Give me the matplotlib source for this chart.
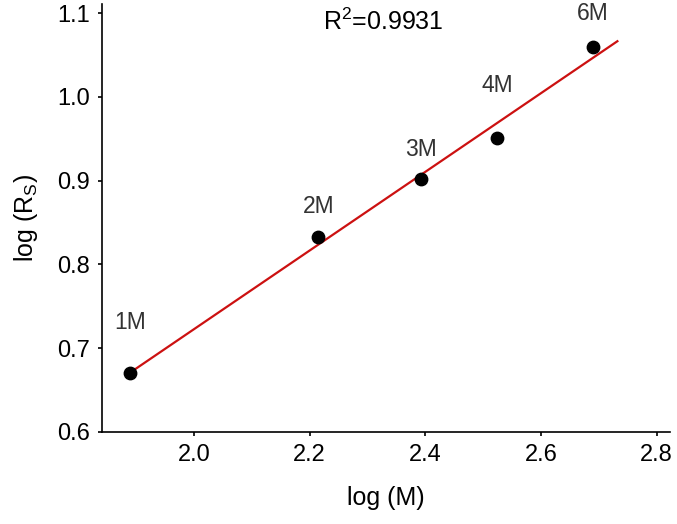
import numpy as np
import matplotlib
matplotlib.use("Agg")
import matplotlib.pyplot as plt

plt.rcParams['font.family'] = ['Liberation Sans', 'DejaVu Sans']
plt.rcParams['mathtext.fontset'] = 'custom'
plt.rcParams['mathtext.rm'] = 'Liberation Sans'
plt.rcParams['mathtext.it'] = 'Liberation Sans'

# data
labels = ['1M', '2M', '3M', '4M', '6M']
log_m = [1.890, 2.215, 2.392, 2.524, 2.690]
log_rs = [0.671, 0.833, 0.902, 0.951, 1.060]
r2_text = 'R$^2$=0.9931'
xticks = [2.0, 2.2, 2.4, 2.6, 2.8]
yticks = [0.6, 0.7, 0.8, 0.9, 1.0, 1.1]

# label offsets above the dots (pixels)
label_dy = [50, 30, 29, 52, 33]

fig = plt.figure(figsize=(6.77, 5.24), dpi=100)
ax = fig.add_axes([0.1507, 0.1756, 0.8390, 0.8170])

# linear fit
slope, icpt = np.polyfit(log_m, log_rs, 1)
x_fit = np.array([log_m[0], 2.732])
ax.plot(x_fit, slope * x_fit + icpt, color='#cc1111', lw=1.6, zorder=2)

ax.scatter(log_m, log_rs, s=80, color='black', zorder=3)

for lab, x, y, dy in zip(labels, log_m, log_rs, label_dy):
    ax.annotate(lab, (x, y), xytext=(0, dy), textcoords='offset pixels',
                ha='center', va='center', fontsize=16.5, color='#333333')

ax.text(383 / 677, 1 - 22 / 524, r2_text, transform=fig.transFigure,
        ha='center', va='center', fontsize=18)

ax.set_xlim(1.841, 2.823)
ax.set_ylim(0.6, 1.111)
ax.set_xticks(xticks)
ax.set_yticks(yticks)
ax.set_xticklabels([f'{v:.1f}' for v in xticks])
ax.set_yticklabels([f'{v:.1f}' for v in yticks])

for side in ['top', 'right']:
    ax.spines[side].set_visible(False)
for side in ['left', 'bottom']:
    ax.spines[side].set_linewidth(1.2)
ax.tick_params(direction='out', length=3, width=1.2, labelsize=17, pad=6)

ax.set_xlabel('log (M)', fontsize=18, labelpad=14)
ax.set_ylabel('log (R$_\\mathregular{S}$)', fontsize=18, labelpad=12)

fig.savefig('out.png', dpi=100)
